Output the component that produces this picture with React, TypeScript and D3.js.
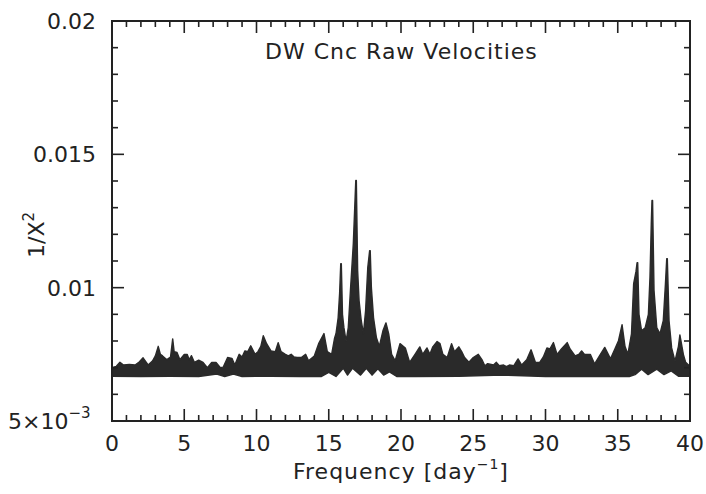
import React from "react";
import * as d3 from "d3";

// Upper envelope of the periodogram band (frequency in day^-1, value 1/X^2)
const upperFreq = [
  0.0, 0.3, 0.55, 0.8, 1.2, 1.6, 1.9, 2.15, 2.5, 2.8, 3.0, 3.2, 3.35, 3.5, 3.8, 4.05, 4.2, 4.3, 4.5, 4.7,
  5.0, 5.2, 5.35, 5.5, 5.7, 6.0, 6.3, 6.6, 6.9, 7.2, 7.5, 7.7, 8.0, 8.3, 8.5, 8.8, 9.0, 9.2, 9.4, 9.6,
  9.9, 10.1, 10.3, 10.47, 10.7, 11.0, 11.3, 11.5, 11.7, 12.0, 12.2, 12.4, 12.6, 12.8, 13.1, 13.4, 13.6, 14.0, 14.3, 14.67,
  14.9, 15.2, 15.4, 15.5, 15.65, 15.75, 15.83, 15.87, 15.95, 16.05, 16.2, 16.35, 16.5, 16.7, 16.87, 16.91, 17.0, 17.1, 17.25, 17.4,
  17.55, 17.7, 17.83, 17.87, 17.95, 18.1, 18.3, 18.5, 18.75, 18.96, 19.15, 19.35, 19.6, 19.93, 20.3, 20.6, 20.97, 21.3, 21.5, 21.8,
  22.0, 22.2, 22.5, 22.7, 22.9, 23.2, 23.5, 23.7, 24.0, 24.2, 24.4, 24.7, 25.0, 25.35, 25.6, 25.8, 26.0, 26.4, 26.6, 26.8,
  27.1, 27.3, 27.5, 27.8, 28.1, 28.35, 28.7, 29.0, 29.3, 29.6, 29.85, 30.1, 30.3, 30.55, 30.8, 31.1, 31.5, 31.7, 32.05, 32.3,
  32.5, 32.7, 33.1, 33.4, 33.8, 34.1, 34.5, 34.8, 35.05, 35.3, 35.5, 35.7, 35.95, 36.1, 36.26, 36.34, 36.38, 36.47, 36.65, 36.9,
  37.12, 37.23, 37.32, 37.37, 37.41, 37.51, 37.7, 37.92, 38.15, 38.3, 38.39, 38.43, 38.55, 38.73, 38.96, 39.2, 39.3, 39.54, 39.7, 39.9,
  40.0,
];
const upperVal = [
  0.0070, 0.00705, 0.0072, 0.0071, 0.00712, 0.0071, 0.00722, 0.00737, 0.0071, 0.00725, 0.00744, 0.0078, 0.0075, 0.00744, 0.0073, 0.0074, 0.00808, 0.0076, 0.00757, 0.0073,
  0.0075, 0.0075, 0.0073, 0.00745, 0.0072, 0.00728, 0.0072, 0.0070, 0.0072, 0.0072, 0.0070, 0.00702, 0.00738, 0.00735, 0.0071, 0.0075, 0.0074, 0.00763, 0.0076, 0.00782,
  0.0075, 0.0076, 0.0078, 0.0082, 0.0079, 0.00763, 0.0076, 0.00794, 0.0076, 0.0075, 0.00744, 0.0075, 0.0074, 0.00738, 0.00738, 0.0075, 0.00726, 0.00744, 0.0079, 0.00828,
  0.0076, 0.0075, 0.0081, 0.00827, 0.00887, 0.00977, 0.0109, 0.0109, 0.0090, 0.0085, 0.0080, 0.0085, 0.00989, 0.01165, 0.01402, 0.01402, 0.01064, 0.00951, 0.00876, 0.00827,
  0.00914, 0.01075, 0.01139, 0.01139, 0.0100, 0.00887, 0.00812, 0.0078, 0.00838, 0.00868, 0.00827, 0.0075, 0.00726, 0.0079, 0.00774, 0.0072, 0.0075, 0.00778, 0.0075, 0.00774,
  0.0075, 0.00778, 0.00798, 0.0079, 0.0075, 0.00738, 0.0079, 0.0076, 0.00778, 0.0076, 0.00738, 0.0072, 0.00738, 0.0075, 0.0073, 0.00707, 0.00715, 0.0071, 0.0072, 0.00707,
  0.0071, 0.00704, 0.0071, 0.00707, 0.00733, 0.0071, 0.0073, 0.00767, 0.0072, 0.0072, 0.0074, 0.00774, 0.0077, 0.00794, 0.0075, 0.0077, 0.00794, 0.0077, 0.00744, 0.0075,
  0.00763, 0.0075, 0.0075, 0.00714, 0.0075, 0.00776, 0.00733, 0.0077, 0.00801, 0.00861, 0.0078, 0.0075, 0.00827, 0.01015, 0.0106, 0.01094, 0.01094, 0.0090, 0.00838, 0.0085,
  0.0090, 0.01038, 0.0124, 0.01327, 0.01327, 0.0099, 0.0085, 0.00827, 0.00876, 0.01015, 0.01109, 0.01109, 0.00876, 0.00774, 0.00724, 0.0078, 0.00823, 0.0075, 0.0072, 0.0071,
  0.0071,
];

// Lower envelope of the band
const lowerFreq = [
  0, 2, 4, 6, 7.25, 7.8, 8.4, 9, 11, 13, 14.5, 15.0, 15.5, 16.0, 16.3, 16.65, 17.2, 17.6, 18.0, 18.4,
  18.8, 19.2, 19.7, 21, 24, 27, 30, 33, 35, 35.8, 36.2, 36.65, 37.1, 37.7, 38.2, 38.7, 39.2, 40,
];
const lowerVal = [
  0.00668, 0.00667, 0.00668, 0.00667, 0.00676, 0.00667, 0.00676, 0.00667, 0.00668, 0.00667, 0.00667, 0.00682, 0.00667, 0.00698, 0.00672, 0.00698, 0.00672, 0.00698, 0.00672, 0.00696,
  0.00672, 0.00684, 0.00667, 0.00667, 0.00668, 0.00672, 0.00667, 0.00667, 0.00667, 0.00667, 0.00674, 0.00694, 0.00674, 0.00694, 0.00674, 0.00688, 0.00668, 0.00668,
];

const xMajor = [0, 5, 10, 15, 20, 25, 30, 35, 40];
const xMajorLabels = ["0", "5", "10", "15", "20", "25", "30", "35", "40"];
const yMajor = [0.01, 0.015, 0.02];
const yMajorLabels = ["0.01", "0.015", "0.02"];

const W = 706;
const H = 494;
const X0 = 112, X1 = 690, Y0 = 21, Y1 = 421;
const INK = "#222";
const FONT = "'DejaVu Sans', sans-serif";

export default function App() {
  const x = d3.scaleLinear().domain([0, 40]).range([X0, X1]);
  const y = d3.scaleLinear().domain([0.005, 0.02]).range([Y1, Y0]);

  const lowerAt = (f: number) => {
    const i = d3.bisectLeft(lowerFreq, f);
    if (i <= 0) return lowerVal[0];
    if (i >= lowerFreq.length) return lowerVal[lowerVal.length - 1];
    const f0 = lowerFreq[i - 1], f1 = lowerFreq[i];
    const t = (f - f0) / (f1 - f0);
    return lowerVal[i - 1] + t * (lowerVal[i] - lowerVal[i - 1]);
  };

  const pts = upperFreq.map((f, i) => ({ f, hi: upperVal[i], lo: lowerAt(f) }));
  const lowerPts = lowerFreq.map((f, i) => ({ f, v: lowerVal[i] }));

  const topLine = d3.line<{ f: number; hi: number }>().x((d) => x(d.f)).y((d) => y(d.hi));
  const botLine = d3.line<{ f: number; v: number }>().x((d) => x(d.f)).y((d) => y(d.v));
  const topPath = topLine(pts) || "";
  const botRev = botLine(lowerPts.slice().reverse()) || "";
  const bandPath = topPath + "L" + botRev.slice(1) + "Z";

  const xMinor = d3.range(0, 41, 1).filter((v) => v % 5 !== 0);
  const yMinor = d3.range(6, 20, 1).map((v) => v / 1000).filter((v) => Math.round(v * 1000) % 5 !== 0);

  const major = 12, minor = 6;

  return (
    <svg width={W} height={H} style={{ position: "absolute", left: 0, top: 0, background: "#fff" }} fontFamily={FONT}>
      <rect x={0} y={0} width={W} height={H} fill="#fff" />
      <clipPath id="plotclip">
        <rect x={X0} y={Y0} width={X1 - X0} height={Y1 - Y0} />
      </clipPath>
      <path d={bandPath} fill="#2a2a2a" stroke="#2a2a2a" strokeWidth={1.4} strokeLinejoin="round" clipPath="url(#plotclip)" />

      {/* ticks */}
      <g stroke={INK} strokeWidth={1.6}>
        {xMajor.map((v) => (
          <g key={"xm" + v}>
            <line x1={x(v)} x2={x(v)} y1={Y1} y2={Y1 - major} />
            <line x1={x(v)} x2={x(v)} y1={Y0} y2={Y0 + major} />
          </g>
        ))}
        {xMinor.map((v) => (
          <g key={"xn" + v}>
            <line x1={x(v)} x2={x(v)} y1={Y1} y2={Y1 - minor} />
            <line x1={x(v)} x2={x(v)} y1={Y0} y2={Y0 + minor} />
          </g>
        ))}
        {yMajor.map((v) => (
          <g key={"ym" + v}>
            <line x1={X0} x2={X0 + major} y1={y(v)} y2={y(v)} />
            <line x1={X1} x2={X1 - major} y1={y(v)} y2={y(v)} />
          </g>
        ))}
        {yMinor.map((v) => (
          <g key={"yn" + v}>
            <line x1={X0} x2={X0 + minor} y1={y(v)} y2={y(v)} />
            <line x1={X1} x2={X1 - minor} y1={y(v)} y2={y(v)} />
          </g>
        ))}
      </g>
      <rect x={X0} y={Y0} width={X1 - X0} height={Y1 - Y0} fill="none" stroke={INK} strokeWidth={2} />

      {/* x tick labels */}
      {xMajor.map((v, i) => (
        <text key={"xl" + v} x={x(v)} y={451} textAnchor="middle" fontSize={22} fill={INK}>
          {xMajorLabels[i]}
        </text>
      ))}
      {/* y tick labels */}
      {yMajor.map((v, i) => (
        <text key={"yl" + v} x={96} y={y(v) + 8} textAnchor="end" fontSize={22} fill={INK}>
          {yMajorLabels[i]}
        </text>
      ))}
      <text x={8} y={429} fontSize={22} fill={INK}>
        5×10
        <tspan dy={-11} fontSize={15}>−3</tspan>
      </text>

      {/* title */}
      <text x={265} y={59} fontSize={22} fill={INK} letterSpacing={1}>
        DW Cnc Raw Velocities
      </text>

      {/* axis titles */}
      <text x={293} y={479} fontSize={22} fill={INK} letterSpacing={1}>
        Frequency [day
        <tspan dy={-10} fontSize={14}>−1</tspan>
        <tspan dy={10}>]</tspan>
      </text>
      <text transform="translate(44,258) rotate(-90)" fontSize={22} fill={INK}>
        1/X
        <tspan dy={-10} fontSize={15}>2</tspan>
      </text>
    </svg>
  );
}
